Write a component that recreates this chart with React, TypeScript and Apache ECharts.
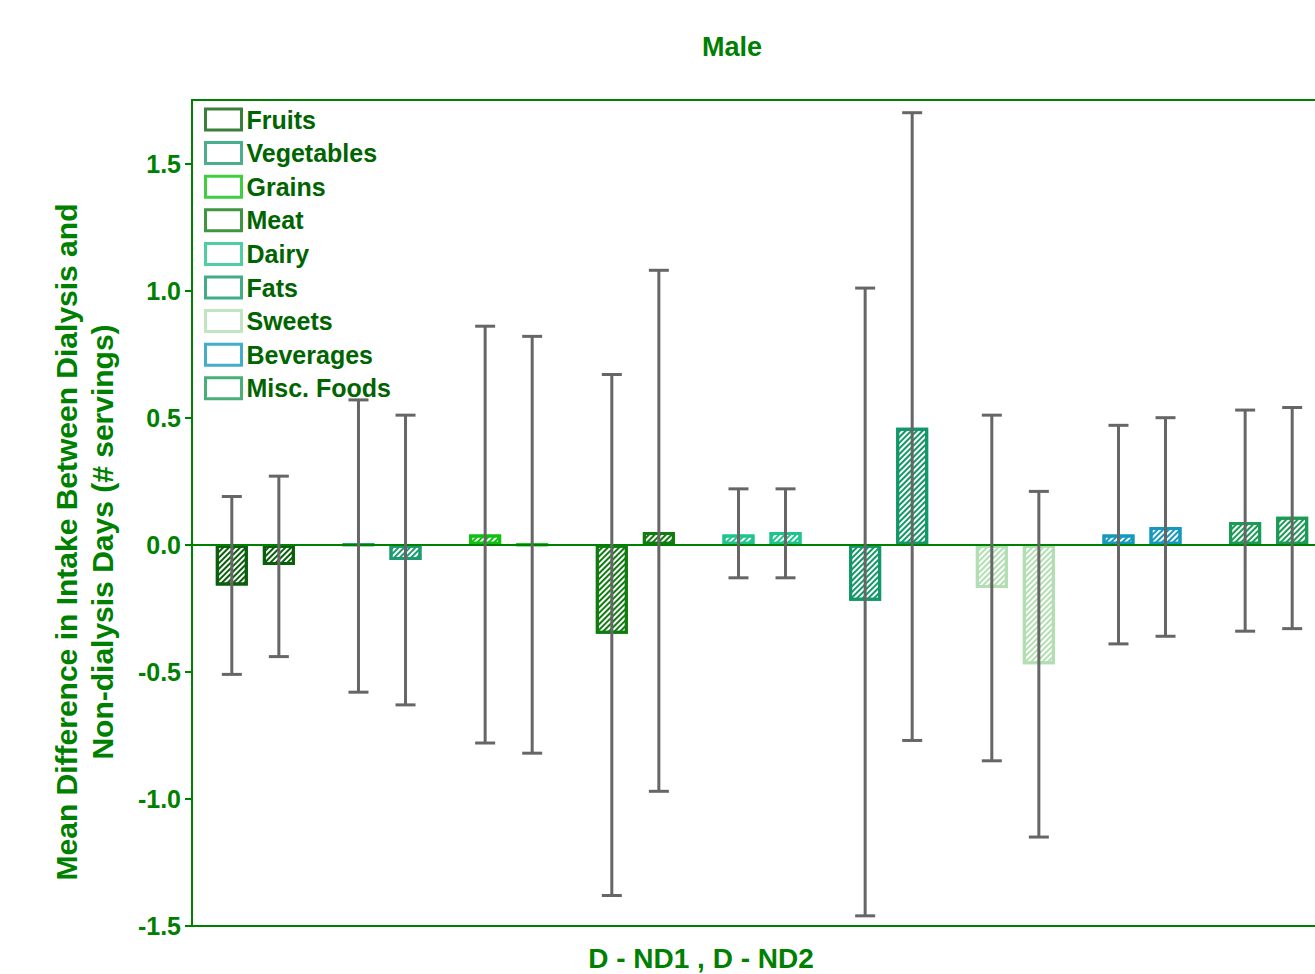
import React, { useEffect, useRef } from "react";
import * as echarts from "echarts";

const categories = ["Fruits", "Vegetables", "Grains", "Meat", "Dairy", "Fats", "Sweets", "Beverages", "Misc. Foods"];
const colors = ["#0a5f0a", "#1e9a70", "#10c010", "#107c10", "#20c38c", "#129868", "#b2dfb2", "#1598bd", "#1b9a55"];
const seriesNames = ["D - ND1", "D - ND2"];
const nd1Mean = [-0.16, 0.0, 0.04, -0.35, 0.04, -0.22, -0.17, 0.04, 0.09];
const nd1Low = [-0.51, -0.58, -0.78, -1.38, -0.13, -1.46, -0.85, -0.39, -0.34];
const nd1High = [0.19, 0.57, 0.86, 0.67, 0.22, 1.01, 0.51, 0.47, 0.53];
const nd2Mean = [-0.08, -0.06, 0.0, 0.05, 0.05, 0.46, -0.47, 0.07, 0.11];
const nd2Low = [-0.44, -0.63, -0.82, -0.97, -0.13, -0.77, -1.15, -0.36, -0.33];
const nd2High = [0.27, 0.51, 0.82, 1.08, 0.22, 1.7, 0.21, 0.5, 0.54];
const yTicks = [-1.5, -1, -0.5, 0, 0.5, 1, 1.5];

const GREEN = "#008000";
const DARK_GREEN = "#006400";
const FONT = "'Liberation Sans', Arial, Helvetica, sans-serif";
const BAR_WIDTH = 32;
const BAR_GAP_RATIO = 0.47;
const CAP = 10;

function barSeries(name: string, means: number[]) {
  return {
    type: "bar",
    name,
    barWidth: BAR_WIDTH,
    barGap: `${BAR_GAP_RATIO * 100}%`,
    z: 2,
    data: means.map((v, i) => ({
      value: v,
      itemStyle: {
        color: "#ffffff",
        borderColor: colors[i],
        borderWidth: 3,
        decal: {
          symbol: "rect",
          symbolSize: 1,
          dashArrayX: [1, 0],
          dashArrayY: [1.2, 2],
          rotation: -Math.PI / 4,
          color: colors[i],
        },
      },
    })),
  };
}

function errSeries(name: string, low: number[], high: number[], sign: number) {
  return {
    type: "custom",
    name: name + " CI",
    z: 5,
    silent: true,
    data: low.map((l, i) => [i, l, high[i]]),
    encode: { x: 0, y: [1, 2] },
    renderItem: (params: any, api: any) => {
      const i = api.value(0);
      const off = (sign * BAR_WIDTH * (1 + BAR_GAP_RATIO)) / 2;
      const pLo = api.coord([i, api.value(1)]);
      const pHi = api.coord([i, api.value(2)]);
      const x = pLo[0] + off;
      const style = { stroke: "#666666", lineWidth: 3 };
      return {
        type: "group",
        children: [
          { type: "line", shape: { x1: x, y1: pLo[1], x2: x, y2: pHi[1] }, style },
          { type: "line", shape: { x1: x - CAP, y1: pLo[1], x2: x + CAP, y2: pLo[1] }, style },
          { type: "line", shape: { x1: x - CAP, y1: pHi[1], x2: x + CAP, y2: pHi[1] }, style },
        ],
      };
    },
  };
}

export default function App() {
  const ref = useRef<HTMLDivElement>(null);
  useEffect(() => {
    if (!ref.current) return;
    const chart = echarts.init(ref.current, undefined, { renderer: "svg" });
    const b1: any = barSeries(seriesNames[0], nd1Mean);
    b1.markLine = {
      silent: true,
      symbol: "none",
      label: { show: false },
      lineStyle: { color: GREEN, width: 2, type: "solid" },
      data: [{ yAxis: 0 }],
    };
    const legendSeries = categories.map((c, i) => ({
      type: "scatter",
      name: c,
      data: [],
      itemStyle: { color: "#ffffff", borderColor: colors[i], borderWidth: 3 },
    }));
    chart.setOption({
      animation: false,
      backgroundColor: "#ffffff",
      title: {
        text: "Male",
        left: 702,
        top: 33,
        padding: 0,
        textStyle: { color: GREEN, fontSize: 27, fontWeight: "bold", fontFamily: FONT },
      },
      legend: {
        orient: "vertical",
        left: 204,
        top: 107,
        padding: 0,
        itemWidth: 36,
        itemHeight: 21,
        itemGap: 8.6,
        selectedMode: false,
        textStyle: { color: DARK_GREEN, fontSize: 25, fontWeight: "bold", fontFamily: FONT },
        data: categories.map((c, i) => ({
          name: c,
          icon: "rect",
          itemStyle: { color: "#ffffff", borderColor: colors[i], borderWidth: 3 },
        })),
      },
      grid: {
        left: 192,
        top: 100,
        right: 8,
        bottom: 48,
        show: true,
        borderColor: GREEN,
        borderWidth: 2,
        backgroundColor: "transparent",
      },
      xAxis: {
        type: "category",
        data: categories,
        axisLine: { show: true, lineStyle: { color: GREEN, width: 2 } },
        axisTick: { show: false },
        axisLabel: { show: false },
        splitLine: { show: false },
      },
      yAxis: {
        type: "value",
        min: -1.5,
        max: 1.75,
        splitLine: { show: false },
        axisLine: { show: true, lineStyle: { color: GREEN, width: 2 } },
        axisTick: { show: true, length: 7, customValues: yTicks, lineStyle: { color: GREEN, width: 2 } },
        axisLabel: {
          customValues: yTicks,
          margin: 11,
          color: GREEN,
          fontSize: 25,
          fontWeight: "bold",
          fontFamily: FONT,
          formatter: (v: number) => v.toFixed(1),
        },
      },
      graphic: [
        {
          type: "text",
          x: 701,
          y: 958,
          style: {
            text: "D - ND1 , D - ND2",
            fill: GREEN,
            font: `bold 28px ${FONT}`,
            textAlign: "center",
            textVerticalAlign: "middle",
          },
        },
        {
          type: "text",
          x: 84,
          y: 542,
          rotation: Math.PI / 2,
          style: {
            text: "Mean Difference in Intake Between Dialysis and\nNon-dialysis Days (# servings)",
            fill: GREEN,
            font: `bold 30px ${FONT}`,
            lineHeight: 36,
            textAlign: "center",
            textVerticalAlign: "middle",
          },
        },
      ],
      series: [
        b1,
        barSeries(seriesNames[1], nd2Mean),
        errSeries(seriesNames[0], nd1Low, nd1High, -1),
        errSeries(seriesNames[1], nd2Low, nd2High, 1),
        ...legendSeries,
      ],
    });
    return () => chart.dispose();
  }, []);
  return (
    <div
      style={{
        position: "fixed",
        left: 0,
        top: 0,
        width: 1315,
        height: 974,
        overflow: "hidden",
        background: "#ffffff",
      }}
    >
      <div ref={ref} style={{ width: 1340, height: 974 }} />
    </div>
  );
}
